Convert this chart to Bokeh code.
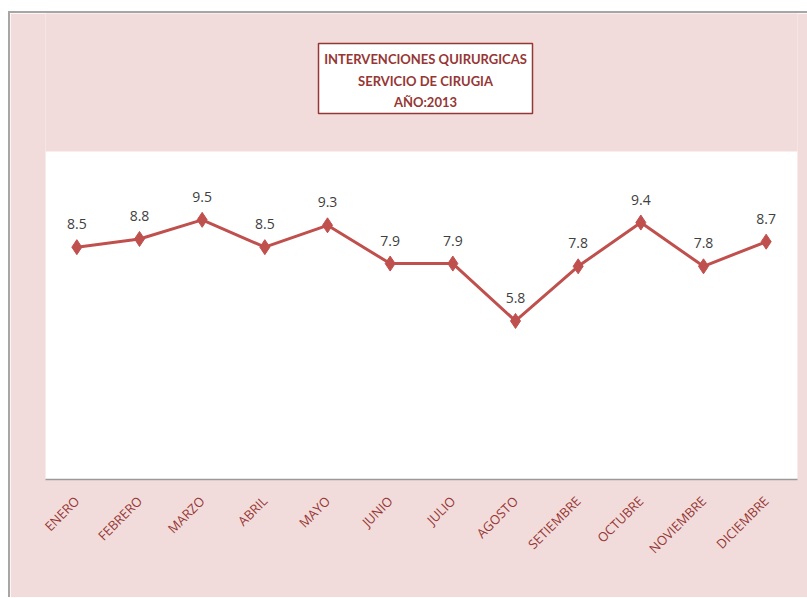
from bokeh.plotting import figure
from bokeh.models import ColumnDataSource, Range1d, FactorRange, Label, LabelSet, BoxAnnotation
from bokeh.embed import file_html
from bokeh.resources import INLINE
from bokeh.core.properties import value
import math

months = ["ENERO", "FEBRERO", "MARZO", "ABRIL", "MAYO", "JUNIO", "JULIO",
          "AGOSTO", "SETIEMBRE", "OCTUBRE", "NOVIEMBRE", "DICIEMBRE"]
values = [8.5, 8.8, 9.5, 8.5, 9.3, 7.9, 7.9, 5.8, 7.8, 9.4, 7.8, 8.7]
title_lines = ["INTERVENCIONES QUIRURGICAS", "SERVICIO DE CIRUGIA", "AÑO:2013"]

PINK = "#F2DCDB"
DARKRED = "#953735"
LINE = "#C0504D"

# layout (pixels)
FRAME_W, FRAME_H = 752, 466       # frame covers the title area too
PLOT_H = 328                      # white plot area height
Y_TOP = 12                        # value at top of white plot area
px = PLOT_H / Y_TOP               # pixels per unit
Y_END = FRAME_H / px
xpx = FRAME_W / len(months)

src = ColumnDataSource(dict(m=months, v=values, t=["%.1f" % v for v in values]))

p = figure(x_range=FactorRange(*months, range_padding=0), y_range=Range1d(0, Y_END),
           width=797, height=584, output_backend="svg", toolbar_location=None,
           min_border_left=35, min_border_right=10, min_border_top=0, min_border_bottom=118)
p.frame_width = FRAME_W
p.frame_height = FRAME_H
p.styles = {"border-left": "2px solid #a6a6a6", "border-top": "2px solid #a6a6a6",
            "margin-top": "11px", "margin-left": "8px"}

p.border_fill_color = PINK
p.background_fill_color = PINK
p.outline_line_color = None
p.xgrid.visible = False
p.ygrid.visible = False
p.yaxis.visible = False

# white plot area
p.add_layout(BoxAnnotation(bottom=0, top=Y_TOP, fill_color="white", fill_alpha=1,
                           line_color=None, level="underlay"))

ax = p.xaxis[0]
ax.axis_line_color = "#9a9a9a"
ax.axis_line_width = 1.5
ax.major_tick_line_color = None
ax.minor_tick_line_color = None
ax.major_label_orientation = math.pi / 4
ax.major_label_text_color = DARKRED
ax.major_label_text_font = "Open Sans"
ax.major_label_text_font_size = "13px"
ax.major_label_standoff = 13

p.line("m", "v", source=src, line_color=LINE, line_width=3)
p.scatter("m", "v", source=src, marker="diamond", size=15, fill_color=LINE, line_color=LINE)

labels = LabelSet(x="m", y="v", text="t", source=src, y_offset=18, text_align="center",
                  text_baseline="bottom", text_color="#404040",
                  text_font=value("Open Sans"), text_font_size="14px")
p.add_layout(labels)

# title box (page px: x 318-532, y 43-113; frame bottom at page y 479, left at 45)
def dy(page_y):
    return (479 - page_y) / px

def dx(page_x):
    return (page_x - 45) / xpx

p.add_layout(BoxAnnotation(left=dx(318), right=dx(532), bottom=dy(113), top=dy(43),
                           fill_color="white", fill_alpha=1, line_color=DARKRED,
                           line_alpha=1, line_width=1.5, level="annotation"))
for line_text, yc in zip(title_lines, [58, 80, 101]):
    p.add_layout(Label(x=dx(425), y=dy(yc), text=line_text, text_align="center",
                       text_baseline="middle", text_color=DARKRED, text_font="Lato",
                       text_font_style="bold", text_font_size="13px"))

open("out.html", "w").write(file_html(p, INLINE))
